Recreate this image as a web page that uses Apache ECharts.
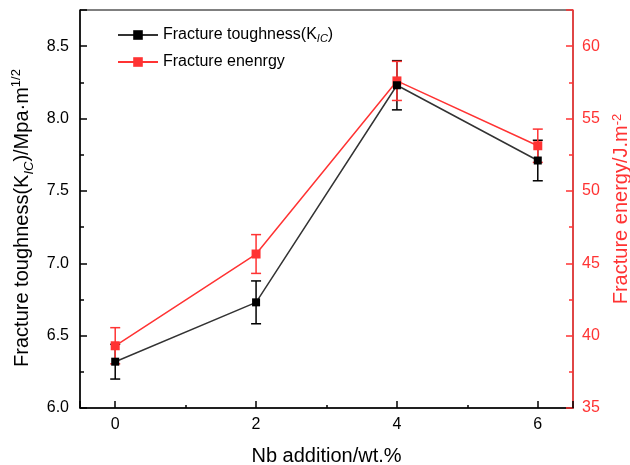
<!DOCTYPE html>
<html>
<head>
<meta charset="utf-8">
<script src="https://cdn.jsdelivr.net/npm/echarts@6/dist/echarts.min.js"></script>
<style>
  html, body { margin: 0; padding: 0; background: #fff; }
  #main { width: 630px; height: 465px; }
</style>
</head>
<body>
<div id="main"></div>
<script>
// Nb 添加量
var nbAddition = [0, 2, 4, 6];
// 断裂韧性 K_IC 及误差
var toughness = [6.32, 6.73, 8.23, 7.71];
var toughnessErr = [0.12, 0.148, 0.17, 0.14];
// 断裂能 及误差
var energy = [39.3, 45.64, 57.6, 53.12];
var energyErr = [1.25, 1.34, 1.35, 1.15];

var RED = '#ff3333';
var FONT = 'Liberation Sans';

var myChart = echarts.init(document.getElementById('main'));

var lineData = function(ys) {
  return nbAddition.map(function(x, i) { return [x, ys[i]]; });
};
var errData = function(ys, es) {
  return nbAddition.map(function(x, i) { return [x, ys[i] - es[i], ys[i] + es[i]]; });
};

var errorBar = function(color) {
  return function(params, api) {
    var lo = api.coord([api.value(0), api.value(1)]);
    var hi = api.coord([api.value(0), api.value(2)]);
    var w = 5;
    var st = { stroke: color, lineWidth: 1.5 };
    return {
      type: 'group',
      children: [
        { type: 'line', shape: { x1: lo[0], y1: lo[1], x2: hi[0], y2: hi[1] }, style: st },
        { type: 'line', shape: { x1: lo[0] - w, y1: lo[1], x2: lo[0] + w, y2: lo[1] }, style: st },
        { type: 'line', shape: { x1: hi[0] - w, y1: hi[1], x2: hi[0] + w, y2: hi[1] }, style: st }
      ]
    };
  };
};

var option = {
  animation: false,
  textStyle: { fontFamily: FONT },
  grid: {
    left: 80, right: 57, top: 10, bottom: 57,
    outerBoundsMode: 'none',
    containLabel: false,
    show: true, borderColor: '#000', borderWidth: 1
  },
  legend: {
    orient: 'vertical',
    left: 112, top: 22,
    itemWidth: 40, itemHeight: 12, itemGap: 10,
    textStyle: {
      fontFamily: FONT, fontSize: 16, color: '#000',
      rich: {
        a: { fontFamily: FONT, fontSize: 16, color: '#000', lineHeight: 18 },
        sub: { fontFamily: FONT, fontSize: 11, fontStyle: 'italic', color: '#000', verticalAlign: 'bottom' }
      }
    },
    formatter: function(name) {
      if (name === 'Fracture toughness') return '{a|Fracture toughness(K}{sub|IC}{a|)}';
      return '{a|' + name + '}';
    },
    data: ['Fracture toughness', 'Fracture enenrgy']
  },
  xAxis: {
    type: 'value',
    min: -0.5, max: 6.5,
    splitNumber: 3,
    name: 'Nb addition/wt.%',
    nameLocation: 'middle',
    nameGap: 38,
    nameTextStyle: { fontFamily: FONT, fontSize: 20, color: '#000' },
    axisLine: { show: true, onZero: false, lineStyle: { color: '#000', width: 1.5 } },
    axisTick: { inside: true, length: 7, lineStyle: { color: '#000', width: 1.5 } },
    minorTick: { show: true, splitNumber: 2, length: 3, lineStyle: { color: '#000', width: 1.5 } },
    axisLabel: { fontFamily: FONT, fontSize: 16, color: '#000', margin: 9, showMinLabel: false, showMaxLabel: false },
    splitLine: { show: false }
  },
  yAxis: [{
    type: 'value',
    min: 6, max: 8.75, interval: 0.5,
    position: 'left',
    name: '{a|Fracture toughness(K}{sub|IC}{a|)/Mpa·m}{sup|1/2}',
    nameLocation: 'middle',
    nameRotate: 90,
    nameGap: 42,
    nameTextStyle: {
      fontFamily: FONT, fontSize: 20, color: '#000',
      padding: [0, 18, 0, 0],
      rich: {
        a: { fontFamily: FONT, fontSize: 20, color: '#000', lineHeight: 26 },
        sub: { fontFamily: FONT, fontSize: 13, fontStyle: 'italic', color: '#000', verticalAlign: 'bottom' },
        sup: { fontFamily: FONT, fontSize: 13, color: '#000', verticalAlign: 'top' }
      }
    },
    axisLine: { show: true, onZero: false, lineStyle: { color: '#000', width: 1.5 } },
    axisTick: { inside: true, length: 7, lineStyle: { color: '#000', width: 1.5 } },
    minorTick: { show: true, splitNumber: 2, length: 4, lineStyle: { color: '#000', width: 1.5 } },
    axisLabel: {
      fontFamily: FONT, fontSize: 16, color: '#000', margin: 11, showMaxLabel: false,
      formatter: function(v) { return v.toFixed(1); }
    },
    splitLine: { show: false }
  }, {
    type: 'value',
    min: 35, max: 62.5, interval: 5,
    position: 'right',
    name: '{a|Fracture energy/J.m}{sup|-2}',
    nameLocation: 'middle',
    nameRotate: 90,
    nameGap: 30,
    nameTextStyle: {
      fontFamily: FONT, fontSize: 20, color: RED,
      rich: {
        a: { fontFamily: FONT, fontSize: 20, color: RED, lineHeight: 22 },
        sup: { fontFamily: FONT, fontSize: 13, color: RED, verticalAlign: 'top' }
      }
    },
    axisLine: { show: true, onZero: false, lineStyle: { color: RED, width: 1.5 } },
    axisTick: { inside: true, length: 7, lineStyle: { color: RED, width: 1.5 } },
    minorTick: { show: true, splitNumber: 2, length: 4, lineStyle: { color: RED, width: 1.5 } },
    axisLabel: { fontFamily: FONT, fontSize: 16, color: RED, margin: 9, showMaxLabel: false },
    splitLine: { show: false }
  }],
  series: [{
    name: 'toughErr',
    type: 'custom',
    yAxisIndex: 0,
    renderItem: errorBar('#000'),
    data: errData(toughness, toughnessErr),
    z: 1
  }, {
    name: 'energyErr',
    type: 'custom',
    yAxisIndex: 1,
    renderItem: errorBar(RED),
    data: errData(energy, energyErr),
    z: 1
  }, {
    name: 'Fracture toughness',
    type: 'line',
    yAxisIndex: 0,
    symbol: 'rect',
    symbolSize: 8,
    lineStyle: { color: '#333', width: 1.5 },
    itemStyle: { color: '#000' },
    data: lineData(toughness),
    z: 3
  }, {
    name: 'Fracture enenrgy',
    type: 'line',
    yAxisIndex: 1,
    symbol: 'rect',
    symbolSize: 9,
    lineStyle: { color: RED, width: 1.5 },
    itemStyle: { color: RED },
    data: lineData(energy),
    z: 2
  }]
};

myChart.setOption(option);
</script>
</body>
</html>
